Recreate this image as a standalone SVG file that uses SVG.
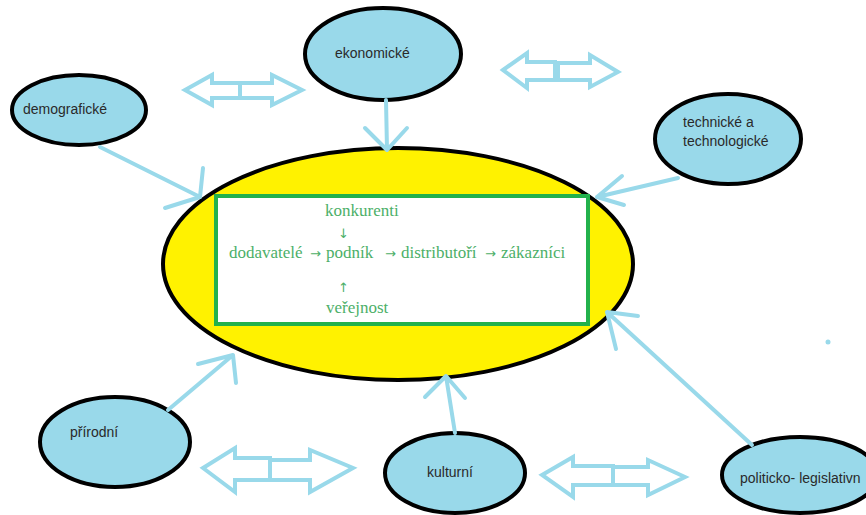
<svg xmlns="http://www.w3.org/2000/svg" width="866" height="515" viewBox="0 0 866 515">
<style>
.node{fill:#99d9ea;stroke:#000;stroke-width:4}
.lbl{font-family:"Liberation Sans",Arial,sans-serif;font-size:14px;fill:#2a2a2a}
.con{fill:none;stroke:#99d9ea;stroke-width:4;stroke-linecap:round;stroke-linejoin:round}
.dbl{fill:none;stroke:#99d9ea;stroke-width:4;stroke-linejoin:miter}
.in{font-family:"Liberation Serif","Times New Roman",serif;font-size:17px;fill:#4caf68}
.ar{font-family:"DejaVu Sans",sans-serif;font-size:13px}
</style>
<rect width="866" height="515" fill="#fff"/>
<g id="center">
<ellipse cx="398" cy="264" rx="235" ry="116" fill="#fff200" stroke="#000" stroke-width="4"/>
<rect x="216" y="196" width="372" height="128" fill="#fff" stroke="#22b14c" stroke-width="4"/>
<text class="in" x="325" y="216">konkurenti</text>
<text class="in ar" x="338" y="238">↓</text>
<text class="in" y="258"><tspan x="229">dodavatelé</tspan><tspan class="ar" x="310">→</tspan><tspan x="326">podník</tspan><tspan class="ar" x="385">→</tspan><tspan x="401">distributoří</tspan><tspan class="ar" x="485">→</tspan><tspan x="501">zákazníci</tspan></text>
<text class="in ar" x="338" y="292">↑</text>
<text class="in" x="326" y="313">veřejnost</text>
</g>
<g id="ekonomicke">
<ellipse class="node" cx="383" cy="54" rx="78" ry="46"/>
<text class="lbl" x="335" y="58">ekonomické</text>
</g>
<g id="demograficke">
<ellipse class="node" cx="79" cy="110" rx="67" ry="35"/>
<text class="lbl" x="23" y="114">demografické</text>
</g>
<g id="technicke">
<ellipse class="node" cx="728" cy="139" rx="73" ry="45"/>
<text class="lbl" x="683" y="127">technické a</text>
<text class="lbl" x="683" y="146">technologické</text>
</g>
<g id="prirodni">
<ellipse class="node" cx="115" cy="442" rx="75" ry="45"/>
<text class="lbl" x="70" y="437">přírodní</text>
</g>
<g id="kulturni">
<ellipse class="node" cx="455" cy="473" rx="70" ry="40"/>
<text class="lbl" x="427" y="477">kulturní</text>
</g>
<g id="politicko">
<ellipse class="node" cx="800" cy="475" rx="78" ry="38"/>
<text class="lbl" x="740" y="483">politicko- legislativn</text>
</g>
<g id="connectors">
<path class="con" d="M386,100 L387,150 M365,128 L387,150 L407,128"/>
<path class="con" d="M100,147 L200,197 M203,168 L200,197 L165,208"/>
<path class="con" d="M678,178 L597,197 M622,176 L597,197 L624,205"/>
<path class="con" d="M168,410 L233,355 M198,364 L233,355 L236,383"/>
<path class="con" d="M455,433 L446,376 M425,397 L446,376 L465,398"/>
<path class="con" d="M752,445 L607,312 M638,316 L607,312 L616,349"/>
<path class="dbl" d="M185,90 L212,75 L212,83 L240,83 L240,98 L212,98 L212,105 Z M240,83 L272,83 L272,75 L302,90 L272,105 L272,98 L240,98"/>
<path class="dbl" d="M503,70 L527,53 L527,62 L555,62 L555,80 L527,80 L527,88 Z M558,63 L590,63 L590,55 L618,72 L590,87 L590,80 L558,80 Z"/>
<path class="dbl" d="M203,468 L235,448 L235,458 L270,458 L270,480 L235,480 L235,492 Z M270,460 L310,460 L310,450 L353,468 L310,492 L310,480 L270,480"/>
<path class="dbl" d="M542,475 L573,457 L573,466 L613,466 L613,485 L573,485 L573,497 Z M613,467 L648,467 L648,460 L685,477 L648,495 L648,485 L613,485"/>
</g>
<circle cx="828" cy="342" r="2.5" fill="#99d9ea"/>
</svg>
